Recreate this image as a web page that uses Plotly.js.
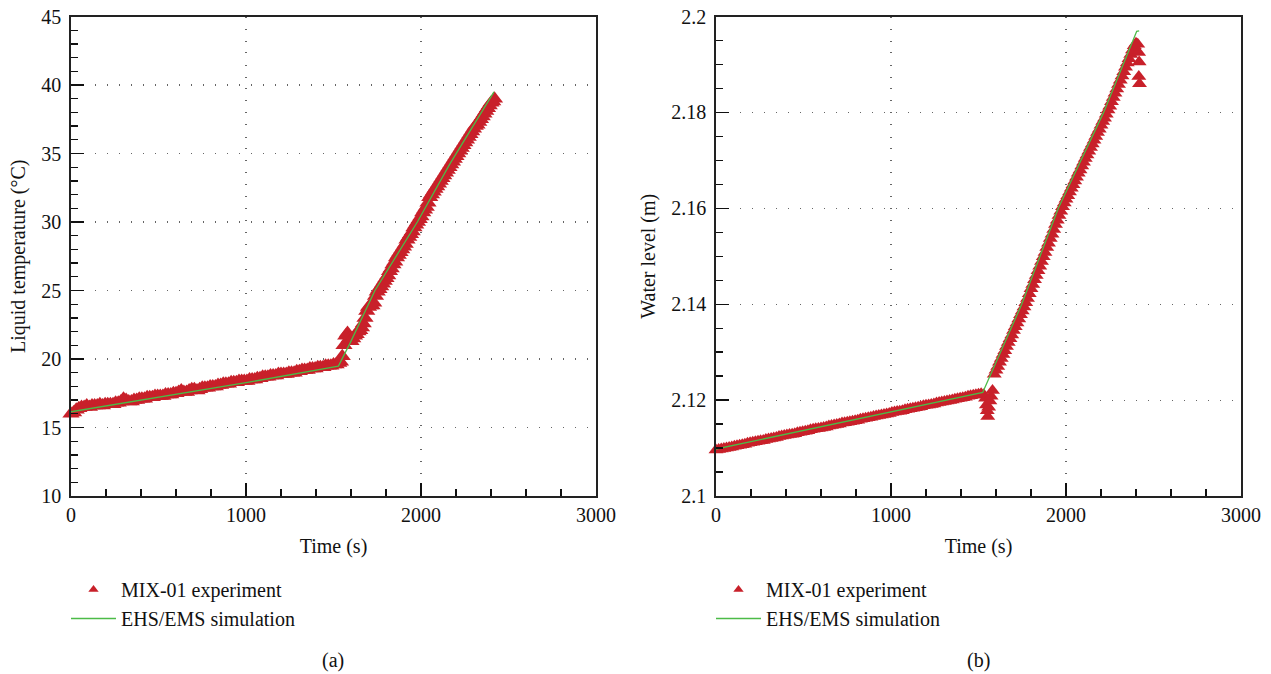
<!DOCTYPE html>
<html>
<head>
<meta charset="utf-8">
<script src="https://cdn.plot.ly/plotly-3.0.1.min.js"></script>
<style>html,body{margin:0;padding:0;background:#fff;}#chart{width:1271px;height:674px;}</style>
</head>
<body>
<div id="chart"></div>
<script>
// ---- Panel (a): liquid temperature (s, °C) ----
const tempExpTime = [
  0,15,30,45,60,75,90,105,120,135,
  150,165,180,195,210,225,240,255,270,285,
  300,315,330,345,360,375,390,405,420,435,
  450,465,480,495,510,525,540,555,570,585,
  600,615,630,645,660,675,690,705,720,735,
  750,765,780,795,810,825,840,855,870,885,
  900,915,930,945,960,975,990,1005,1020,1035,
  1050,1065,1080,1095,1110,1125,1140,1155,1170,1185,
  1200,1215,1230,1245,1260,1275,1290,1305,1320,1335,
  1350,1365,1380,1395,1410,1425,1440,1455,1470,1485,
  1500,1515,1530,
  1540,1550,1560,1570,1580,1590,1600,1610,1620,1630,
  1640,1650,1660,1670,1680,1690,1700,1710,1720,1730,
  1740,1750,1760,1770,1780,1790,1800,1810,1820,1830,
  1840,1850,1860,1870,1880,1890,1900,1910,1920,1930,
  1940,1950,1960,1970,1980,1990,2000,2010,2020,2030,
  2040,2050,2060,2070,2080,2090,2100,2110,2120,2130,
  2140,2150,2160,2170,2180,2190,2200,2210,2220,2230,
  2240,2250,2260,2270,2280,2290,2300,2310,2320,2330,
  2340,2350,2360,2370,2380,2390,2400,2410,2420];
const tempExp = [
  16.0,16.1,16.3,16.4,16.5,16.5,16.6,16.5,16.6,16.6,
  16.6,16.7,16.6,16.7,16.7,16.7,16.7,16.8,16.8,16.9,
  17.1,17.0,16.9,16.9,17.0,17.0,17.1,17.1,17.1,17.2,
  17.2,17.2,17.3,17.3,17.3,17.3,17.4,17.4,17.4,17.5,
  17.5,17.6,17.7,17.6,17.6,17.7,17.8,17.8,17.7,17.8,
  17.9,17.9,17.9,18.0,18.0,18.0,18.1,18.1,18.2,18.2,
  18.2,18.3,18.3,18.3,18.4,18.4,18.4,18.4,18.5,18.5,
  18.5,18.6,18.6,18.7,18.7,18.7,18.8,18.8,18.8,18.9,
  18.9,18.9,18.9,19.0,19.0,19.0,19.1,19.1,19.2,19.2,
  19.2,19.3,19.3,19.3,19.4,19.4,19.4,19.5,19.5,19.5,
  19.6,19.6,19.7,
  19.8,20.2,21.0,21.7,21.9,21.5,21.3,21.5,21.7,21.8,
  22.0,22.1,22.3,22.6,23.0,23.5,23.8,23.9,23.9,24.1,
  24.6,24.9,25.1,25.3,25.5,25.7,25.9,26.1,26.4,26.6,
  26.9,27.1,27.4,27.6,27.8,28.0,28.2,28.4,28.7,28.9,
  29.1,29.3,29.6,29.8,30.0,30.2,30.4,30.7,30.9,31.1,
  31.4,31.8,32.0,32.2,32.4,32.6,32.8,33.0,33.2,33.4,
  33.6,33.8,34.0,34.2,34.4,34.6,34.8,35.0,35.2,35.4,
  35.6,35.8,36.0,36.2,36.4,36.6,36.8,37.0,37.1,37.3,
  37.5,37.7,37.9,38.1,38.3,38.5,38.7,38.8,39.0];
const tempSimTime = [0,1000,1528,1594,1737,1979,2166,2417];
const tempSim = [16.15,18.27,19.48,21.14,25.0,30.0,34.26,39.5];

// ---- Panel (b): water level (s, m) ----
const levelExpTime = [
  0,15,30,45,60,75,90,105,120,135,
  150,165,180,195,210,225,240,255,270,285,
  300,315,330,345,360,375,390,405,420,435,
  450,465,480,495,510,525,540,555,570,585,
  600,615,630,645,660,675,690,705,720,735,
  750,765,780,795,810,825,840,855,870,885,
  900,915,930,945,960,975,990,1005,1020,1035,
  1050,1065,1080,1095,1110,1125,1140,1155,1170,1185,
  1200,1215,1230,1245,1260,1275,1290,1305,1320,1335,
  1350,1365,1380,1395,1410,1425,1440,1455,1470,1485,
  1500,1515,1530,
  1540,1545,1550,1553,1558,1565,1572,1580,
  1590,1600,1610,1620,1630,1640,1650,1660,1670,1680,
  1690,1700,1710,1720,1730,1740,1750,1760,1770,1780,
  1790,1800,1810,1820,1830,1840,1850,1860,1870,1880,
  1890,1900,1910,1920,1930,1940,1950,1960,1970,1980,
  1990,2000,2010,2020,2030,2040,2050,2060,2070,2080,
  2090,2100,2110,2120,2130,2140,2150,2160,2170,2180,
  2190,2200,2210,2220,2230,2240,2250,2260,2270,2280,
  2290,2300,2310,2320,2330,2340,2350,2360,2370,2380,
  2390,2400,2410,2415,2418,2416,2420];
const levelExp = [
  2.1096,2.1097,2.1098,2.1099,2.1100,2.1101,2.1102,2.1104,2.1105,2.1106,
  2.1107,2.1108,2.1110,2.1111,2.1112,2.1113,2.1114,2.1115,2.1116,2.1118,
  2.1119,2.1120,2.1121,2.1122,2.1124,2.1125,2.1126,2.1127,2.1128,2.1129,
  2.1130,2.1132,2.1133,2.1134,2.1135,2.1136,2.1138,2.1139,2.1140,2.1141,
  2.1142,2.1143,2.1144,2.1146,2.1147,2.1148,2.1149,2.1150,2.1152,2.1153,
  2.1154,2.1155,2.1156,2.1157,2.1158,2.1160,2.1161,2.1162,2.1163,2.1164,
  2.1166,2.1167,2.1168,2.1169,2.1170,2.1171,2.1172,2.1174,2.1175,2.1176,
  2.1177,2.1178,2.1180,2.1181,2.1182,2.1183,2.1184,2.1185,2.1186,2.1188,
  2.1189,2.1190,2.1191,2.1192,2.1194,2.1195,2.1196,2.1197,2.1198,2.1199,
  2.1200,2.1202,2.1203,2.1204,2.1205,2.1206,2.1208,2.1209,2.1210,2.1211,
  2.1212,2.1213,2.1211,
  2.1204,2.1190,2.1178,2.1166,2.1185,2.1198,2.1208,2.1220,
  2.1254,2.1262,2.1270,2.1279,2.1287,2.1295,2.1303,2.1312,2.1320,2.1328,
  2.1336,2.1345,2.1353,2.1361,2.1369,2.1378,2.1386,2.1394,2.1403,2.1412,
  2.1422,2.1432,2.1441,2.1451,2.1460,2.1470,2.1479,2.1489,2.1499,2.1508,
  2.1518,2.1527,2.1537,2.1546,2.1556,2.1566,2.1575,2.1585,2.1594,2.1603,
  2.1611,2.1619,2.1626,2.1634,2.1642,2.1649,2.1657,2.1665,2.1673,2.1680,
  2.1688,2.1696,2.1704,2.1711,2.1719,2.1727,2.1734,2.1742,2.1750,2.1758,
  2.1765,2.1773,2.1781,2.1788,2.1796,2.1805,2.1813,2.1822,2.1831,2.1840,
  2.1849,2.1858,2.1867,2.1876,2.1885,2.1894,2.1903,2.1912,2.1921,2.1930,
  2.1939,2.1944,2.1942,2.1925,2.1905,2.1875,2.1860];
const levelSimTime = [0,1000,1524,1747,1956,2215,2404,2418];
const levelSim = [2.1098,2.1176,2.1216,2.1400,2.1600,2.1800,2.1969,2.1970];

const seriesNames = ["MIX-01 experiment", "EHS/EMS simulation"];
const panelLabels = ["(a)", "(b)"];
const xTitle = "Time (s)";
const yTitles = ["Liquid temperature (°C)", "Water level (m)"];

const RED = "#c8202a", GREEN = "#4cbb47";
const FONT = "'Times New Roman', 'Liberation Serif', serif";

function expTrace(x, y, xa, ya, size) {
  return {x: x, y: y, type: "scatter", mode: "markers", name: seriesNames[0], xaxis: xa, yaxis: ya,
    marker: {symbol: "triangle-up", size: size, color: RED, line: {width: 0}},
    cliponaxis: false, showlegend: false};
}
function simTrace(x, y, xa, ya, leg) {
  return {x: x, y: y, type: "scatter", mode: "lines", name: seriesNames[1], xaxis: xa, yaxis: ya,
    line: {color: GREEN, width: 1.3}, legend: leg, legendrank: 2};
}
// legend-only entries (small symbol like the original key)
function keyTrace(xa, ya, leg) {
  return {x: [null], y: [null], type: "scatter", mode: "markers", name: seriesNames[0], xaxis: xa, yaxis: ya,
    marker: {symbol: "triangle-up", size: 9, color: RED, line: {width: 0}}, legend: leg, legendrank: 1};
}

const traces = [
  expTrace(tempExpTime, tempExp, "x", "y", 15),
  simTrace(tempSimTime, tempSim, "x", "y", "legend"),
  keyTrace("x", "y", "legend"),
  expTrace(levelExpTime, levelExp, "x2", "y2", 13),
  simTrace(levelSimTime, levelSim, "x2", "y2", "legend2"),
  keyTrace("x2", "y2", "legend2")
];

function xAxis(domain, anchor) {
  return {domain: domain, anchor: anchor, range: [0, 3000], dtick: 1000, tick0: 0,
    ticks: "inside", ticklen: 13, tickwidth: 1.3, tickcolor: "#111",
    minor: {dtick: 200, ticks: "inside", ticklen: 7, tickwidth: 1.3, tickcolor: "#111", showgrid: false},
    showline: true, linecolor: "#222", linewidth: 1.8, mirror: true, zeroline: false,
    showgrid: true, gridcolor: "#666", griddash: "1px,11px", gridwidth: 1.2,
    tickfont: {family: FONT, size: 20, color: "#111"},
    title: {text: xTitle, font: {family: FONT, size: 20, color: "#111"}, standoff: 14}};
}
function yAxis(domain, anchor, range, dtick, minor, title) {
  return {domain: domain, anchor: anchor, range: range, dtick: dtick, tick0: range[0],
    ticks: "inside", ticklen: 13, tickwidth: 1.3, tickcolor: "#111",
    minor: {dtick: minor, ticks: "inside", ticklen: 7, tickwidth: 1.3, tickcolor: "#111", showgrid: false},
    showline: true, linecolor: "#222", linewidth: 1.8, mirror: true, zeroline: false,
    showgrid: true, gridcolor: "#666", griddash: "1px,11px", gridwidth: 1.2,
    ticklabelstandoff: 4,
    tickfont: {family: FONT, size: 20, color: "#111"},
    title: {text: title, font: {family: FONT, size: 20, color: "#111"}, standoff: 10}};
}

const W = 1271, H = 674;
const yDom = [1 - 496 / H, 1 - 16.5 / H];
const legendFont = {family: FONT, size: 20, color: "#111"};
const layout = {
  width: W, height: H, margin: {l: 0, r: 0, t: 0, b: 0},
  paper_bgcolor: "#fff", plot_bgcolor: "#fff",
  font: {family: FONT, color: "#111"},
  xaxis: xAxis([71 / W, 596 / W], "y"),
  yaxis: yAxis(yDom, "x", [10, 45], 5, 1, yTitles[0]),
  xaxis2: xAxis([716 / W, 1241 / W], "y2"),
  yaxis2: yAxis(yDom, "x2", [2.1, 2.2], 0.02, 0.005, yTitles[1]),
  legend: {x: 66 / W, y: 1 - 570 / H, xanchor: "left", yanchor: "top", bgcolor: "rgba(0,0,0,0)",
    font: legendFont, itemwidth: 45, tracegroupgap: 0, traceorder: "normal"},
  legend2: {x: 711 / W, y: 1 - 570 / H, xanchor: "left", yanchor: "top", bgcolor: "rgba(0,0,0,0)",
    font: legendFont, itemwidth: 45, tracegroupgap: 0, traceorder: "normal"},
  annotations: [
    {text: panelLabels[0], x: 333 / W, y: 1 - 660 / H, xref: "paper", yref: "paper", showarrow: false,
     xanchor: "center", yanchor: "middle", font: {family: FONT, size: 20, color: "#111"}},
    {text: panelLabels[1], x: 978 / W, y: 1 - 660 / H, xref: "paper", yref: "paper", showarrow: false,
     xanchor: "center", yanchor: "middle", font: {family: FONT, size: 20, color: "#111"}}
  ],
  showlegend: true
};

Plotly.newPlot("chart", traces, layout, {displayModeBar: false, staticPlot: true});
</script>
</body>
</html>
